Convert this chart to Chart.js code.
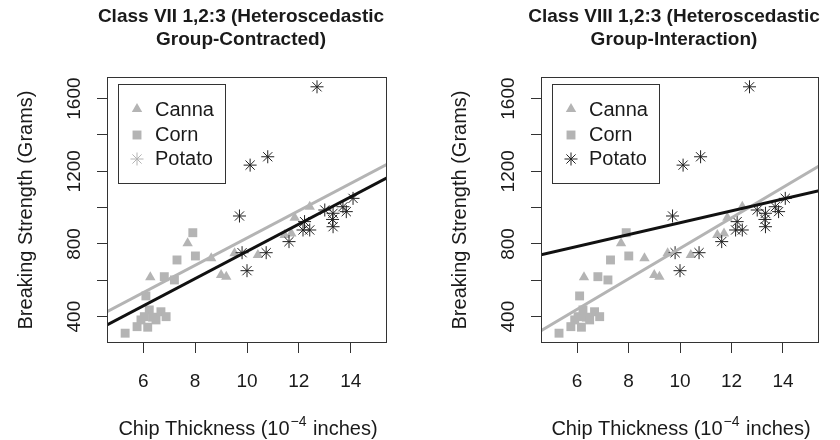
<!DOCTYPE html>
<html>
<head>
<meta charset="utf-8">
<script src="https://cdn.jsdelivr.net/npm/chart.js@4.4.1/dist/chart.umd.min.js"></script>
<style>
  body { margin: 0; background: #fff; }
  .panel { position: absolute; top: 0; width: 420px; height: 440px; }
</style>
</head>
<body>
<div class="panel" style="left:0"><canvas id="contracted" width="420" height="440"></canvas></div>
<div class="panel" style="left:420px"><canvas id="interaction" width="420" height="440"></canvas></div>
<script>
// chip thickness (1e-4 in) vs breaking strength (g), by starch source
const cannaThickness = [6.27, 7.71, 8.62, 9.00, 9.20, 9.52, 10.42, 11.45, 11.71, 11.84, 12.42];
const cannaStrength  = [617, 804, 721, 629, 620, 749, 739, 849, 858, 945, 1005];

const cornThickness = [5.30, 5.76, 5.91, 6.04, 6.10, 6.17, 6.23, 6.36, 6.49, 6.68, 6.88, 6.81, 7.20, 7.30, 7.91, 8.01];
const cornStrength  = [309, 345, 382, 400, 514, 342, 437, 397, 382, 427, 400, 620, 602, 712, 862, 734];

const potatoThickness = [9.71, 9.81, 10.00, 10.12, 10.74, 10.80, 11.62, 12.16, 12.22, 12.42, 12.70, 13.00, 13.32, 13.32, 13.30, 13.70, 13.83, 14.09];
const potatoStrength  = [954, 752, 653, 1234, 752, 1280, 813, 877, 923, 877, 1665, 987, 969, 895, 935, 1005, 978, 1051];

// fitted lines, evaluated at the ends of the x range
const fitEnds = [4.6, 15.4];
const contractedGroupFit  = [427, 1238];
const contractedPotatoFit = [354, 1164];
const interactionGroupFit  = [323, 1229];
const interactionPotatoFit = [740, 1093];

const xTicks = [6, 8, 10, 12, 14];
const yTicks = [400, 600, 800, 1000, 1200, 1400, 1600];
const yLabelled = [400, 800, 1200, 1600];
const legendNames = ['Canna', 'Corn', 'Potato'];

const FONT = '"Liberation Sans", Arial, Helvetica, sans-serif';
const INK = '#1a1a1a';
const GRAY = '#b4b4b4';
const DARK = '#222222';

function pairs(xs, ys) {
  return xs.map((x, i) => ({ x: x, y: ys[i] }));
}

// box, rotated y labels, titles and legend drawn the way base R does it
function rDecorations(titleLines, potatoLegendColor) {
  return {
    id: 'rDecorations',
    afterDraw(chart) {
      const ctx = chart.ctx;
      const a = chart.chartArea;
      const ys = chart.scales.y;
      ctx.save();

      // plot box
      ctx.strokeStyle = '#333';
      ctx.lineWidth = 1;
      ctx.strokeRect(Math.round(a.left) + 0.5, Math.round(a.top) + 0.5,
        Math.round(a.right - a.left) - 1, Math.round(a.bottom - a.top) - 1);

      // y tick labels, parallel to the axis
      ctx.fillStyle = INK;
      ctx.font = '19px ' + FONT;
      ctx.textAlign = 'center';
      ctx.textBaseline = 'middle';
      yLabelled.forEach(v => {
        ctx.save();
        ctx.translate(a.left - 32, ys.getPixelForValue(v));
        ctx.rotate(-Math.PI / 2);
        ctx.fillText(String(v), 0, 0);
        ctx.restore();
      });

      // main title
      const cx = (a.left + a.right) / 2 - 6;
      ctx.font = 'bold 19px ' + FONT;
      ctx.fillText(titleLines[0], cx, 17);
      ctx.fillText(titleLines[1], cx, 40);

      // x axis title with superscript exponent
      const base = 'Chip Thickness (10';
      const sup = '\u22124';
      const tail = ' inches)';
      ctx.font = '20px ' + FONT;
      const wBase = ctx.measureText(base).width;
      const wTail = ctx.measureText(tail).width;
      ctx.font = '14px ' + FONT;
      const wSup = ctx.measureText(sup).width;
      let x = (a.left + a.right) / 2 - (wBase + wSup + wTail) / 2;
      const yTitle = 428;
      ctx.textAlign = 'left';
      ctx.textBaseline = 'alphabetic';
      ctx.font = '20px ' + FONT;
      ctx.fillText(base, x, yTitle + 7);
      x += wBase;
      ctx.font = '14px ' + FONT;
      ctx.fillText(sup, x + 1, yTitle - 2);
      x += wSup + 2;
      ctx.font = '20px ' + FONT;
      ctx.fillText(tail, x, yTitle + 7);

      // legend
      const lx = a.left + 11;
      const ly = a.top + 7;
      ctx.strokeStyle = '#333';
      ctx.strokeRect(Math.round(lx) + 0.5, Math.round(ly) + 0.5, 107, 99);
      const symbols = [
        { pointStyle: 'triangle', radius: 6, borderWidth: 0, fill: GRAY, stroke: GRAY },
        { pointStyle: 'rect', radius: 6.3, borderWidth: 0, fill: GRAY, stroke: GRAY },
        { pointStyle: 'star', radius: 6.5, borderWidth: 1, fill: potatoLegendColor, stroke: potatoLegendColor }
      ];
      const rows = [26, 51, 75];
      ctx.font = '20px ' + FONT;
      ctx.textBaseline = 'middle';
      symbols.forEach((s, i) => {
        ctx.fillStyle = s.fill;
        ctx.strokeStyle = s.stroke;
        ctx.lineWidth = s.borderWidth || 1;
        Chart.helpers.drawPoint(ctx, { pointStyle: s.pointStyle, radius: s.radius, borderWidth: s.borderWidth, rotation: 0 }, lx + 19, ly + rows[i] - (i === 0 ? 1 : 0));
        ctx.fillStyle = INK;
        ctx.fillText(legendNames[i], lx + 37, ly + rows[i]);
      });

      ctx.restore();
    }
  };
}

function makePanel(id, titleLines, groupFit, potatoFit, potatoLegendColor, padLeft, padRight) {
  const axisGrid = { drawOnChartArea: false, drawTicks: true, tickLength: 10, color: '#333', lineWidth: 1 };
  return new Chart(document.getElementById(id), {
    type: 'scatter',
    data: {
      datasets: [
        { label: 'Potato fit', data: pairs(fitEnds, potatoFit), showLine: true, borderColor: '#111', borderWidth: 3, pointRadius: 0 },
        { label: 'Group fit', data: pairs(fitEnds, groupFit), showLine: true, borderColor: GRAY, borderWidth: 3, pointRadius: 0 },
        { label: 'Potato', data: pairs(potatoThickness, potatoStrength), pointStyle: 'star', pointRadius: 6.5, borderColor: DARK, backgroundColor: DARK, borderWidth: 1 },
        { label: 'Canna', data: pairs(cannaThickness, cannaStrength), pointStyle: 'triangle', pointRadius: 6, backgroundColor: GRAY, borderColor: GRAY, borderWidth: 0 },
        { label: 'Corn', data: pairs(cornThickness, cornStrength), pointStyle: 'rect', pointRadius: 6.3, backgroundColor: GRAY, borderColor: GRAY, borderWidth: 0 }
      ]
    },
    options: {
      responsive: false,
      animation: false,
      devicePixelRatio: 1,
      layout: { padding: { top: 77, left: padLeft, right: padRight, bottom: 0 } },
      plugins: { legend: { display: false }, tooltip: { enabled: false } },
      scales: {
        x: {
          type: 'linear',
          min: 4.6,
          max: 15.4,
          afterBuildTicks: s => { s.ticks = xTicks.map(v => ({ value: v })); },
          afterFit: s => { s.height = 97; },
          border: { display: false },
          grid: axisGrid,
          ticks: { color: INK, padding: 17, font: { family: FONT, size: 19 } }
        },
        y: {
          type: 'linear',
          min: 255,
          max: 1719,
          afterBuildTicks: s => { s.ticks = yTicks.map(v => ({ value: v })); },
          afterFit: s => { s.width = 107; },
          border: { display: false },
          grid: axisGrid,
          ticks: { display: false },
          title: { display: true, text: 'Breaking Strength (Grams)', color: INK, font: { family: FONT, size: 20 }, padding: { top: 14, bottom: 0 } }
        }
      }
    },
    plugins: [rDecorations(titleLines, potatoLegendColor)]
  });
}

makePanel('contracted', ['Class VII 1,2:3 (Heteroscedastic', 'Group-Contracted)'],
  contractedGroupFit, contractedPotatoFit, GRAY, 0, 33);
makePanel('interaction', ['Class VIII 1,2:3 (Heteroscedastic', 'Group-Interaction)'],
  interactionGroupFit, interactionPotatoFit, DARK, 14, 21);
</script>
</body>
</html>
